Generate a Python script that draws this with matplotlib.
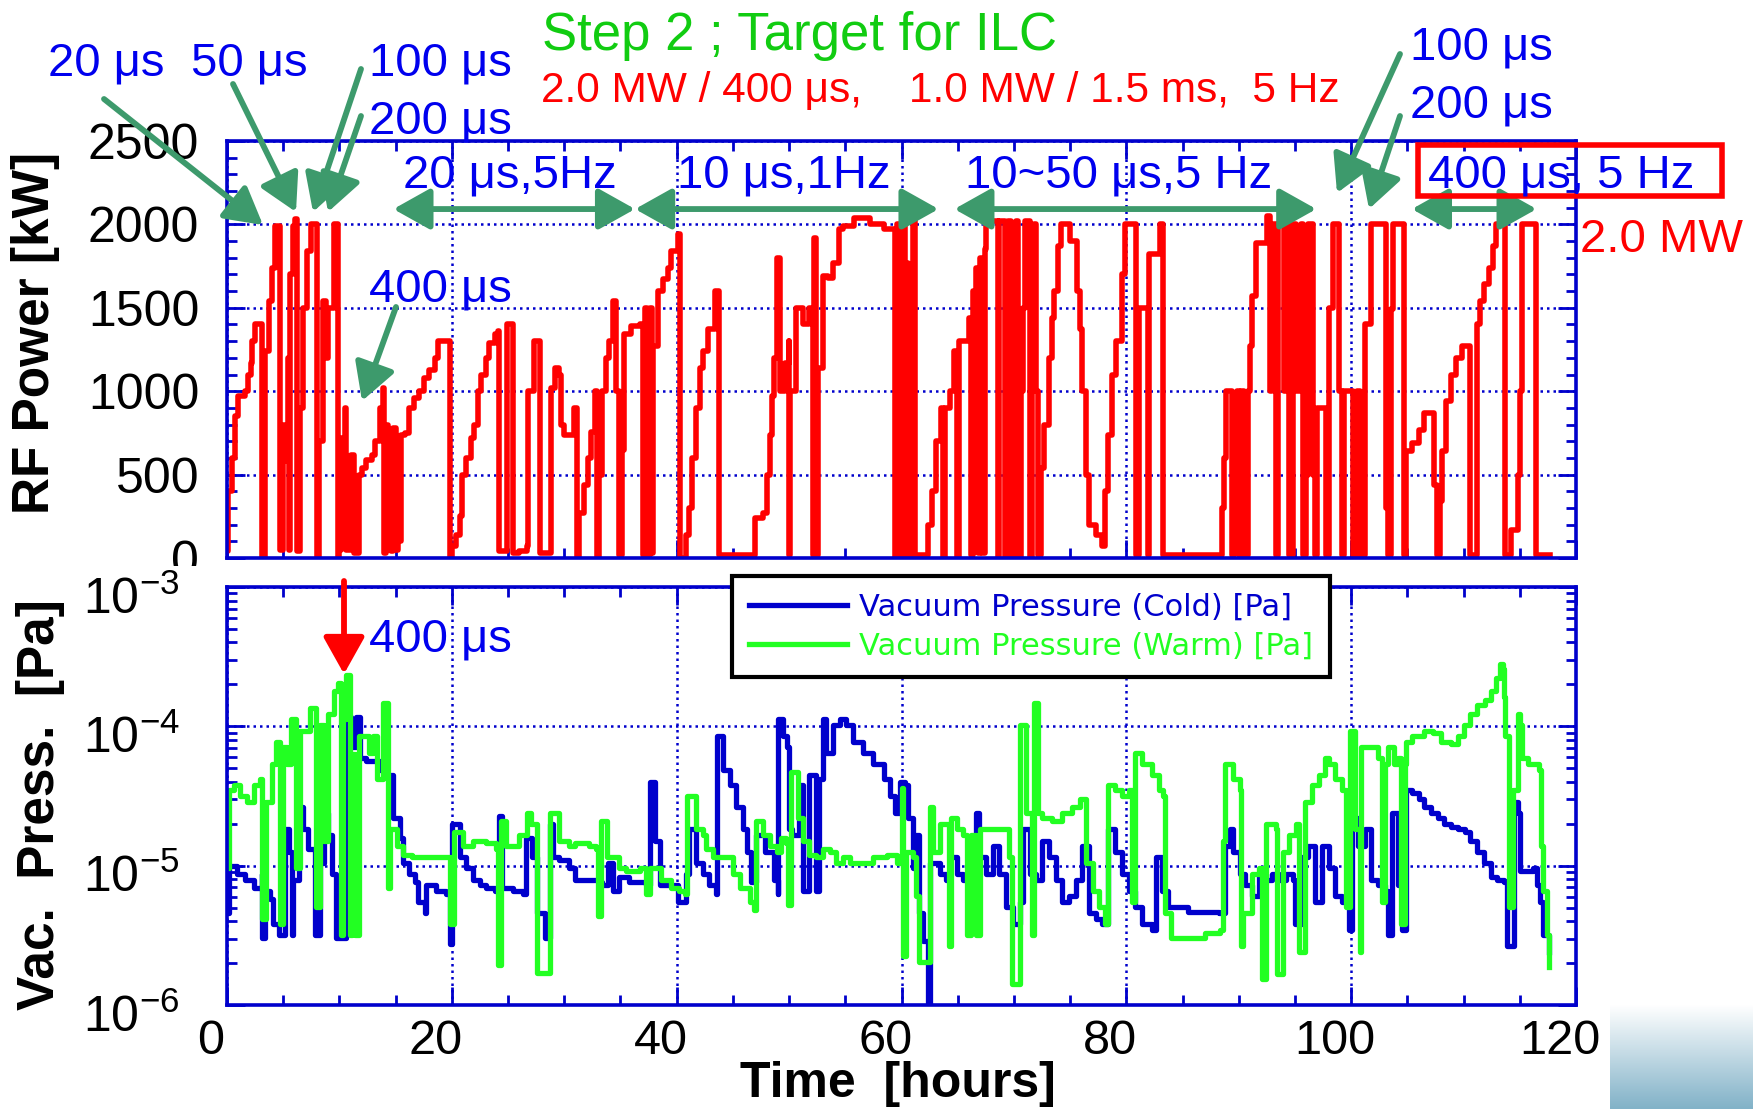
import numpy as np
import matplotlib
matplotlib.use('Agg')
import matplotlib.pyplot as plt
from matplotlib.ticker import MultipleLocator, LogLocator, NullFormatter
from matplotlib.patches import FancyArrowPatch, Rectangle
from matplotlib.transforms import ScaledTranslation, Bbox, TransformedBbox
from matplotlib.colors import LinearSegmentedColormap

plt.rcParams['font.family'] = ['Liberation Sans', 'DejaVu Sans']

W, H = 1753, 1109

time_ticks = [0, 20, 40, 60, 80, 100, 120]
power_ticks = [0, 500, 1000, 1500, 2000, 2500]
pressure_ticks = [1e-6, 1e-5, 1e-4, 1e-3]
pressure_labels = [r'$\mathregular{10^{-6}}$', r'$\mathregular{10^{-5}}$',
                   r'$\mathregular{10^{-4}}$', r'$\mathregular{10^{-3}}$']
legend_labels = ['Vacuum Pressure (Cold) [Pa]', 'Vacuum Pressure (Warm) [Pa]']

# RF power [kW] vs time [hours]
rf_power = [
  (0.0, 40), (0.1, 400), (0.45, 600), (0.75, 850), (1.0, 970), (1.6, 1000), (1.9, 1100),
  (2.1, 1170), (2.2, 1300), (2.5, 1400), (3.1, 1400), (3.1, 0), (3.2, 0), (3.4, 1240),
  (3.7, 1540), (4.0, 1740), (4.3, 1990), (4.7, 1990), (4.7, 50), (4.9, 50), (5.0, 800),
  (5.2, 580), (5.4, 1200), (5.5, 50), (5.6, 1700), (5.9, 1990), (6.05, 2030), (6.2, 600),
  (6.2, 40), (6.4, 40), (6.5, 900), (6.8, 1500), (7.1, 1840), (7.5, 2000), (8.0, 2000),
  (8.0, 0), (8.2, 700), (8.5, 1540), (8.8, 1200), (9.0, 1500), (9.5, 2000), (9.9, 2000),
  (9.9, 0), (10.0, 50), (10.1, 720), (10.3, 600), (10.5, 900), (10.6, 50), (10.9, 50),
  (11.0, 620), (11.2, 620), (11.3, 30), (11.5, 30), (11.7, 500), (12.0, 540), (12.4, 590),
  (12.9, 620), (13.2, 700), (13.6, 900), (13.9, 1020), (14.0, 30), (14.1, 800), (14.3, 50),
  (14.5, 700), (14.6, 40), (14.8, 780), (15.0, 50), (15.2, 720), (15.4, 100), (15.5, 740),
  (15.8, 750), (16.2, 900), (16.6, 960), (17.1, 1000), (17.5, 1080), (18.0, 1130),
  (18.5, 1200), (18.8, 1300), (19.8, 1300), (19.8, 0), (20.0, 70), (20.4, 140), (20.7, 250),
  (20.9, 500), (21.3, 600), (21.7, 720), (22.0, 800), (22.3, 1000), (22.6, 1100),
  (23.0, 1200), (23.3, 1290), (23.8, 1340), (24.1, 1360), (24.2, 40), (24.5, 40),
  (24.9, 1400), (25.2, 1400), (25.4, 30), (26.0, 40), (26.7, 70), (26.8, 1000),
  (27.3, 1300), (27.7, 1300), (27.8, 30), (28.8, 30), (28.8, 1020), (29.2, 1140),
  (29.5, 1100), (29.7, 800), (30.0, 740), (30.6, 740), (30.9, 900), (31.1, 0), (31.3, 270),
  (31.8, 440), (32.1, 600), (32.4, 755), (32.7, 1000), (32.9, 1000), (32.9, 0), (33.1, 500),
  (33.4, 1000), (33.7, 1200), (34.0, 1300), (34.3, 1540), (34.55, 1540), (34.6, 1000),
  (34.9, 20), (35.1, 650), (35.3, 1340), (35.9, 1390), (36.7, 1400), (37.0, 1400),
  (37.0, 20), (37.2, 1500), (37.4, 20), (37.6, 1500), (37.8, 30), (37.9, 1270),
  (38.3, 1600), (38.8, 1670), (39.2, 1740), (39.5, 1840), (40.1, 1940), (40.3, 1940),
  (40.3, 0), (40.8, 140), (41.1, 300), (41.4, 600), (41.7, 900), (42.1, 1140),
  (42.3, 1240), (42.8, 1370), (43.4, 1600), (43.8, 1600), (43.8, 20), (46.9, 20),
  (47.0, 240), (47.7, 270), (48.0, 500), (48.3, 740), (48.5, 970), (48.7, 1200),
  (48.9, 1800), (49.1, 1800), (49.2, 1000), (49.6, 1170), (50.0, 1300), (50.0, 20),
  (50.1, 1000), (50.6, 1500), (51.2, 1400), (51.8, 1500), (52.1, 20), (52.2, 1920),
  (52.4, 20), (52.6, 1140), (53.0, 1690), (53.5, 1680), (53.9, 1770), (54.4, 1970),
  (54.8, 1990), (55.8, 2040), (56.6, 2040), (57.2, 2000), (58.4, 1970), (59.3, 1970),
  (59.4, 0), (59.6, 2000), (59.8, 0), (60.1, 2040), (60.3, 1200), (60.4, 1770), (60.6, 0),
  (60.8, 1470), (61.0, 2040), (61.2, 20), (62.2, 20), (62.4, 200), (62.7, 400),
  (63.1, 700), (63.5, 900), (63.7, 0), (63.9, 900), (64.3, 1000), (64.7, 1240), (64.9, 0),
  (65.1, 1300), (65.6, 1300), (66.0, 1440), (66.2, 20), (66.4, 1600), (66.6, 1740),
  (66.8, 30), (67.0, 1800), (67.2, 30), (67.4, 1850), (67.5, 2020), (68.5, 2020),
  (68.6, 0), (68.7, 2020), (69.1, 2020), (69.2, 0), (69.4, 1000), (69.5, 2020), (69.7, 0),
  (69.9, 2000), (70.0, 1000), (70.2, 2020), (70.4, 0), (70.6, 1000), (70.8, 1500),
  (71.0, 2020), (71.3, 2020), (71.4, 0), (71.6, 1000), (71.8, 2000), (72.0, 1000),
  (72.1, 20), (72.4, 540), (72.7, 800), (73.1, 1200), (73.4, 1440), (73.6, 1600),
  (73.9, 1870), (74.2, 2000), (74.6, 2000), (75.0, 1900), (75.6, 1600), (75.9, 1370),
  (76.1, 1000), (76.4, 500), (76.7, 200), (77.3, 140), (77.8, 70), (78.1, 400),
  (78.4, 740), (78.7, 1100), (79.1, 1300), (79.6, 1700), (79.9, 2000), (80.9, 2000),
  (80.9, 20), (81.1, 1500), (81.8, 1500), (81.9, 20), (82.0, 1820), (82.6, 1820),
  (83.0, 2000), (83.2, 2000), (83.3, 20), (88.3, 20), (88.5, 300), (88.7, 600),
  (88.9, 1000), (89.3, 1000), (89.4, 20), (89.6, 640), (89.8, 1000), (90.0, 20),
  (90.2, 1000), (90.5, 640), (90.6, 20), (90.8, 1000), (91.0, 1270), (91.2, 1570),
  (91.5, 1890), (92.0, 1890), (92.5, 2050), (92.7, 2050), (92.8, 1000), (93.0, 2000),
  (93.3, 20), (93.5, 2000), (94.0, 1000), (94.3, 2000), (94.5, 20), (94.8, 2000),
  (95.1, 1000), (95.3, 1000), (95.5, 2000), (95.7, 20), (96.0, 500), (96.2, 2000),
  (96.6, 500), (96.8, 20), (97.0, 900), (97.5, 900), (97.8, 20), (98.0, 1500),
  (98.4, 2000), (98.8, 2000), (98.9, 1000), (99.2, 20), (99.4, 1000), (100.0, 1000),
  (100.2, 20), (100.5, 1000), (100.8, 20), (101.2, 1400), (101.7, 1400), (101.8, 2000),
  (103.0, 2000), (103.1, 300), (103.3, 20), (103.5, 1490), (103.7, 2000), (104.5, 2000),
  (104.7, 20), (104.9, 640), (105.4, 690), (106.0, 770), (106.5, 870), (107.2, 870),
  (107.4, 440), (107.6, 20), (107.9, 340), (108.1, 640), (108.4, 940), (108.9, 1100),
  (109.3, 1200), (109.9, 1270), (110.5, 1270), (110.6, 20), (111.1, 20), (111.2, 1400),
  (111.5, 1540), (111.8, 1640), (112.3, 1740), (112.6, 1870), (112.9, 2000),
  (113.6, 2000), (113.7, 20), (114.2, 170), (114.5, 170), (114.8, 500), (115.0, 1000),
  (115.2, 2000), (116.3, 2000), (116.4, 20), (117.7, 20),
]

# vacuum pressure, (hours, log10 of pressure in Pa)
cold_pressure = [
  (0.0, -5.34), (0.15, -5.0), (0.9, -5.06), (1.6, -5.10), (2.4, -5.16), (3.1, -5.06),
  (3.1, -5.52), (3.4, -5.18), (3.8, -5.24), (4.1, -5.42), (4.6, -5.50), (5.0, -5.50),
  (5.2, -4.74), (5.5, -4.90), (5.8, -5.50), (5.9, -5.10), (6.4, -4.58), (6.8, -4.74),
  (7.2, -4.88), (7.8, -5.50), (8.3, -4.98), (8.6, -4.35), (8.9, -4.62), (9.0, -4.78),
  (9.3, -5.06), (9.7, -5.52), (10.3, -5.52), (10.6, -3.93), (11.0, -4.15), (11.5, -3.93),
  (11.8, -4.23), (12.4, -4.25), (13.0, -4.25), (13.6, -4.31), (14.2, -4.35), (14.5, -4.35),
  (14.8, -4.66), (15.4, -4.80), (15.7, -4.98), (16.2, -5.06), (16.7, -5.12), (17.0, -5.26),
  (17.6, -5.34), (17.7, -5.14), (18.6, -5.18), (19.5, -5.20), (19.8, -5.56), (20.0, -4.70),
  (20.7, -4.94), (21.3, -5.02), (21.9, -5.10), (22.5, -5.14), (23.0, -5.16), (23.8, -5.18),
  (24.2, -4.64), (24.5, -5.16), (25.4, -5.18), (26.3, -5.20), (26.6, -4.80), (27.1, -4.94),
  (27.6, -5.34), (28.3, -5.52), (28.7, -4.70), (29.0, -4.94), (29.5, -4.96), (30.4, -5.02),
  (31.0, -5.10), (32.2, -5.10), (33.0, -5.12), (33.4, -5.14), (33.9, -4.98), (34.3, -5.18),
  (34.9, -5.08), (35.8, -5.12), (37.0, -5.12), (37.3, -5.14), (37.6, -4.40), (38.0, -4.40),
  (38.1, -4.82), (38.5, -5.14), (39.6, -5.14), (40.1, -5.26), (40.7, -5.26), (40.8, -5.06),
  (41.1, -4.74), (41.7, -4.98), (42.3, -5.06), (42.9, -5.14), (43.5, -5.20), (43.6, -4.07),
  (44.1, -4.31), (44.7, -4.42), (45.3, -4.58), (45.9, -4.74), (46.3, -4.90), (46.6, -5.12),
  (47.1, -4.78), (47.9, -4.90), (48.7, -5.10), (49.0, -5.20), (49.0, -3.95), (49.5, -4.07),
  (49.8, -4.15), (50.0, -4.74), (50.3, -4.78), (50.9, -4.42), (51.2, -5.18), (51.8, -4.35),
  (52.4, -5.18), (52.7, -4.38), (53.0, -3.95), (53.3, -4.19), (53.9, -3.99), (54.5, -3.95),
  (55.1, -3.99), (55.7, -4.11), (56.6, -4.19), (57.5, -4.27), (58.4, -4.38), (59.0, -4.50),
  (59.4, -4.62), (59.9, -4.40), (60.3, -4.42), (60.6, -4.66), (61.0, -5.02), (61.3, -4.78),
  (61.6, -5.34), (61.9, -5.54), (62.4, -6.0), (62.5, -4.98), (63.1, -4.98), (63.4, -5.06),
  (64.0, -5.10), (64.3, -4.94), (64.9, -5.06), (65.5, -5.10), (66.6, -4.62), (66.9, -4.94),
  (67.5, -5.06), (68.1, -4.86), (68.7, -5.06), (69.3, -5.30), (69.9, -5.42), (70.5, -5.26),
  (70.8, -4.74), (71.4, -5.06), (72.0, -5.10), (72.5, -4.82), (73.1, -4.94), (73.7, -5.10),
  (74.3, -5.26), (74.9, -5.22), (75.5, -5.10), (76.1, -4.86), (76.7, -5.34), (77.3, -5.38),
  (77.8, -5.42), (78.4, -4.74), (79.0, -4.90), (79.6, -5.06), (80.2, -5.18), (80.8, -5.30),
  (81.4, -5.42), (82.3, -5.46), (82.6, -4.94), (83.2, -5.18), (83.7, -5.30), (85.5, -5.33),
  (88.2, -5.34), (88.8, -4.86), (89.2, -4.74), (89.5, -4.90), (90.1, -5.06), (90.6, -5.14),
  (91.2, -5.22), (91.8, -5.06), (92.4, -5.10), (93.0, -5.06), (93.6, -5.10), (94.2, -5.06),
  (94.8, -5.10), (95.0, -5.42), (95.6, -4.94), (96.2, -4.86), (96.8, -5.26), (97.4, -4.86),
  (98.0, -5.02), (98.6, -5.22), (99.2, -5.26), (99.8, -5.46), (100.1, -4.66), (100.6, -4.86),
  (101.2, -4.74), (101.8, -5.10), (102.4, -5.14), (103.0, -5.18), (103.3, -5.50),
  (103.6, -4.62), (104.2, -5.14), (104.5, -5.46), (104.9, -4.46), (105.4, -4.48),
  (106.0, -4.52), (106.5, -4.58), (107.1, -4.62), (107.7, -4.66), (108.3, -4.70),
  (108.9, -4.72), (109.5, -4.74), (110.1, -4.76), (110.6, -4.82), (111.2, -4.90),
  (111.8, -4.98), (112.4, -5.08), (113.0, -5.10), (113.6, -5.12), (113.9, -5.58),
  (114.5, -4.54), (114.8, -4.62), (115.0, -5.04), (116.2, -5.02), (116.5, -5.14),
  (116.8, -5.26), (117.1, -5.50), (117.6, -5.62),
]

warm_pressure = [
  (0.0, -5.02), (0.15, -4.46), (0.6, -4.42), (1.2, -4.50), (1.8, -4.54), (2.4, -4.42),
  (2.95, -4.38), (3.1, -5.38), (3.5, -4.54), (4.0, -4.27), (4.4, -4.11), (4.7, -5.42),
  (5.0, -4.15), (5.3, -4.27), (5.7, -3.95), (6.0, -3.95), (6.1, -5.02), (6.5, -4.03),
  (7.1, -4.03), (7.4, -3.87), (7.8, -3.87), (7.9, -5.30), (8.3, -3.99), (8.6, -4.82),
  (9.0, -3.91), (9.5, -3.75), (9.9, -3.69), (10.1, -5.50), (10.3, -3.95), (10.6, -3.63),
  (10.9, -5.50), (11.1, -4.20), (11.4, -5.50), (11.7, -4.07), (12.6, -4.19), (13.0, -4.07),
  (13.3, -4.38), (13.9, -3.83), (14.2, -3.83), (14.3, -5.16), (14.5, -4.74), (15.1, -4.86),
  (15.7, -4.92), (16.5, -4.94), (19.5, -4.94), (19.8, -5.42), (20.2, -4.76), (21.0, -4.86),
  (21.9, -4.82), (23.0, -4.84), (23.9, -4.88), (24.1, -5.71), (24.4, -4.68), (24.8, -4.86),
  (25.4, -4.86), (26.0, -4.78), (26.7, -4.62), (27.0, -4.70), (27.6, -5.77), (28.5, -5.77),
  (28.7, -4.62), (29.5, -4.82), (30.4, -4.86), (31.0, -4.84), (32.2, -4.86), (32.8, -4.88),
  (33.0, -5.36), (33.3, -4.68), (33.8, -4.94), (34.4, -4.94), (34.9, -5.02), (35.5, -5.04),
  (36.7, -5.02), (37.3, -5.20), (37.6, -5.02), (38.0, -5.02), (38.6, -5.10), (39.5, -5.16),
  (40.2, -5.18), (40.7, -5.20), (40.9, -4.50), (41.3, -4.50), (41.7, -4.74), (42.3, -4.78),
  (42.6, -4.88), (43.2, -4.94), (44.1, -4.94), (45.0, -5.06), (45.6, -5.16), (46.5, -5.26),
  (46.9, -5.32), (47.1, -4.68), (47.7, -4.78), (48.3, -4.86), (48.9, -4.90), (49.3, -4.80),
  (49.7, -4.84), (49.9, -5.28), (50.2, -4.33), (50.6, -4.33), (50.8, -4.66), (51.2, -4.82),
  (51.8, -4.92), (52.4, -4.94), (53.0, -4.88), (53.6, -4.90), (54.2, -4.98), (54.8, -4.94),
  (55.4, -4.98), (56.6, -4.98), (57.5, -4.94), (58.7, -4.92), (59.6, -4.98), (60.0, -4.44),
  (60.1, -5.65), (60.4, -4.90), (61.0, -4.94), (61.3, -5.22), (61.6, -5.69), (62.4, -5.69),
  (62.5, -4.58), (62.8, -4.90), (63.4, -4.70), (64.0, -4.70), (64.2, -5.58), (64.4, -4.66),
  (64.9, -4.74), (65.5, -4.78), (65.8, -5.50), (66.2, -4.78), (66.6, -5.50), (67.0, -4.74),
  (67.5, -4.74), (69.3, -4.74), (69.6, -4.94), (69.8, -5.85), (70.3, -5.85), (70.5, -3.99),
  (70.8, -3.99), (71.1, -4.62), (71.6, -5.50), (71.8, -3.83), (72.1, -4.62), (72.5, -4.66),
  (73.4, -4.68), (74.3, -4.62), (75.2, -4.58), (75.9, -4.52), (76.4, -4.98), (77.0, -5.18),
  (77.6, -5.30), (78.1, -5.42), (78.4, -4.42), (79.0, -4.46), (79.6, -4.50), (80.2, -4.46),
  (80.5, -5.26), (80.8, -4.19), (81.4, -4.27), (82.3, -4.35), (82.9, -4.46), (83.3, -4.50),
  (83.4, -5.34), (84.0, -5.52), (85.5, -5.52), (87.0, -5.48), (88.3, -5.46), (88.6, -4.82),
  (88.8, -4.27), (89.5, -4.38), (90.1, -4.46), (90.2, -5.58), (90.4, -5.34), (91.2, -5.06),
  (91.8, -5.02), (92.1, -5.81), (92.4, -4.70), (93.3, -4.74), (93.4, -5.78), (93.9, -4.90),
  (94.5, -4.78), (95.1, -4.70), (95.4, -5.62), (95.9, -4.54), (96.5, -4.42), (97.1, -4.35),
  (97.7, -4.23), (98.0, -4.27), (98.6, -4.38), (99.2, -4.46), (99.5, -5.30), (99.9, -4.03),
  (100.3, -4.74), (100.8, -5.62), (100.9, -4.15), (102.4, -4.23), (102.7, -5.26),
  (103.0, -4.27), (103.3, -4.15), (103.8, -4.27), (104.2, -4.23), (104.4, -5.42),
  (104.8, -4.27), (104.9, -4.11), (105.4, -4.07), (106.5, -4.03), (107.3, -4.05),
  (108.0, -4.11), (108.9, -4.13), (109.5, -4.07), (110.0, -3.99), (110.6, -3.91),
  (111.2, -3.85), (111.9, -3.81), (112.4, -3.75), (112.9, -3.65), (113.2, -3.55),
  (113.5, -3.59), (113.6, -3.79), (113.7, -4.07), (114.0, -5.30), (114.4, -4.46),
  (114.8, -3.91), (115.0, -3.99), (115.2, -4.23), (115.7, -4.27), (116.2, -4.27),
  (116.7, -4.31), (116.9, -4.86), (117.1, -5.18), (117.4, -5.50), (117.6, -5.73),
]

# pulse-condition spans shown by the double arrows (hours)
spans = [(14.8, 36.3), (36.3, 63.3), (64.7, 96.9), (105.4, 116.5)]

AX_BLUE = '#0000cc'
TXT_BLUE = '#0000ee'
ARROW_GREEN = '#3d9a6c'


def fig_xy(x, y):
  """ pixel position (from top-left) -> figure fraction """
  return x / W, 1 - y / H


def style_axes(ax):
  for s in ax.spines.values():
    s.set_color(AX_BLUE)
    s.set_linewidth(2.6)
  ax.tick_params(which='both', direction='in', top=True, right=True,
                 color=AX_BLUE, width=2.0)
  ax.tick_params(which='major', length=13)
  ax.tick_params(which='minor', length=7)
  ax.grid(True, which='major', color=AX_BLUE, linestyle=(0, (1, 1.6)), linewidth=1.8)
  ax.set_axisbelow(True)


def add_arrow(p0, p1, color=ARROW_GREEN, style='-|>'):
  arrow = FancyArrowPatch(fig_xy(*p0), fig_xy(*p1), transform=fig.transFigure,
                          arrowstyle=style + ',head_length=0.75,head_width=0.42',
                          mutation_scale=30, lw=4.2, color=color,
                          shrinkA=0, shrinkB=0)
  fig.add_artist(arrow)


fig = plt.figure(figsize=(W / 100, H / 100), dpi=100)

# --- RF power ---
ax1 = fig.add_axes([227 / W, 1 - 558 / H, 1349 / W, 417 / H])
t, p = zip(*rf_power)
ax1.plot(t, p, color='#ff0000', lw=4.0, drawstyle='steps-post')
ax1.set_xlim(0, 120)
ax1.set_ylim(0, 2500)
ax1.set_xticks(time_ticks)
ax1.set_yticks(power_ticks)
ax1.xaxis.set_minor_locator(MultipleLocator(5))
ax1.yaxis.set_minor_locator(MultipleLocator(100))
style_axes(ax1)
ax1.tick_params(labelbottom=False)
ax1.tick_params(axis='y', labelsize=36, pad=20)
# the "0" label is half hidden behind the lower panel in the original
zero_lab = ax1.get_yticklabels()[0]
zero_lab.set_clip_box(TransformedBbox(Bbox([[0, 1 - 566 / H], [1, 1]]), fig.transFigure))
zero_lab.set_clip_on(True)

# --- vacuum pressure ---
ax2 = fig.add_axes([227 / W, 1 - 1005 / H, 1349 / W, 418 / H])
tc, lc = zip(*cold_pressure)
tw, lw_ = zip(*warm_pressure)
ax2.plot(tc, 10 ** np.array(lc), color='#0000cc', lw=3.8, drawstyle='steps-post',
         label=legend_labels[0])
ax2.plot(tw, 10 ** np.array(lw_), color='#22ff22', lw=3.8, drawstyle='steps-post',
         label=legend_labels[1])
ax2.set_yscale('log')
ax2.set_xlim(0, 120)
ax2.set_ylim(1e-6, 1e-3)
ax2.set_xticks(time_ticks)
ax2.xaxis.set_minor_locator(MultipleLocator(5))
ax2.set_yticks(pressure_ticks)
ax2.set_yticklabels(pressure_labels)
ax2.yaxis.set_minor_locator(LogLocator(base=10, subs=np.arange(2, 10)))
ax2.yaxis.set_minor_formatter(NullFormatter())
style_axes(ax2)
ax2.tick_params(axis='y', labelsize=36, pad=34)
ax2.tick_params(axis='x', labelsize=35, pad=10)
shift = ScaledTranslation(-0.16, 0, fig.dpi_scale_trans)
for lab in ax2.get_xticklabels():
  lab.set_transform(lab.get_transform() + shift)
shift_y = ScaledTranslation(0, -0.08, fig.dpi_scale_trans)
for lab in ax2.get_yticklabels():
  lab.set_transform(lab.get_transform() + shift_y)

leg = ax2.legend(loc='upper left', bbox_to_anchor=fig_xy(732, 576),
                 bbox_transform=fig.transFigure, prop={'family': 'DejaVu Sans', 'size': 22},
                 labelcolor='linecolor', fancybox=False, framealpha=1, edgecolor='black',
                 borderpad=0.55, borderaxespad=0, handlelength=3.2, handletextpad=0.4,
                 labelspacing=0.32)
leg.get_frame().set_linewidth(3)

# axis titles
fig.text(*fig_xy(36, 333), 'RF Power [kW]', rotation=90, ha='center', va='center',
         fontsize=37, fontweight='bold')
fig.text(*fig_xy(41, 805), 'Vac.  Press.  [Pa]', rotation=90, ha='center', va='center',
         fontsize=37, fontweight='bold')
fig.text(*fig_xy(898, 1084), 'Time  [hours]', ha='center', va='center',
         fontsize=36, fontweight='bold')

# headline
fig.text(*fig_xy(542, 50), 'Step 2 ; Target for ILC', color='#11cc11', fontsize=38,
         ha='left', va='baseline')
fig.text(*fig_xy(541, 102), '2.0 MW / 400 \u03bcs,    1.0 MW / 1.5 ms,  5 Hz',
         color='#ff0000', fontsize=30.5, ha='left', va='baseline')

# pulse-width labels
blue_labels = [
  ('20 \u03bcs', 106, 75), ('50 \u03bcs', 249, 75), ('100 \u03bcs', 440, 75),
  ('200 \u03bcs', 440, 133), ('100 \u03bcs', 1481, 59), ('200 \u03bcs', 1481, 118),
  ('20 \u03bcs,5Hz', 510, 187), ('10 \u03bcs,1Hz', 784, 187),
  ('10~50 \u03bcs,5 Hz', 1119, 187), ('400 \u03bcs, 5 Hz', 1561, 187),
  ('400 \u03bcs', 440, 302), ('400 \u03bcs', 440, 652),
]
for txt, x, y in blue_labels:
  fig.text(*fig_xy(x, y), txt, color=TXT_BLUE, fontsize=34, ha='center', va='baseline')
fig.text(*fig_xy(1662, 252), '2.0 MW', color='#ff0000', fontsize=34,
         ha='center', va='baseline')
fig.add_artist(Rectangle(fig_xy(1418, 196), 304 / W, 51 / H, transform=fig.transFigure,
                         fill=False, edgecolor='#ff0000', lw=4))

# arrows
add_arrow((104, 99), (263, 225))
add_arrow((233, 84), (296, 212))
add_arrow((361, 69), (313, 212))
add_arrow((361, 116), (328, 212))
add_arrow((396, 307), (362, 401))
add_arrow((1400, 54), (1337, 193))
add_arrow((1400, 116), (1369, 209))
add_arrow((344, 581), (344, 674), color='#ff0000')
for x0, x1 in spans:
  ax1.annotate('', xy=(x1, 2092), xytext=(x0, 2092), annotation_clip=False,
               arrowprops=dict(arrowstyle='<|-|>,head_length=0.75,head_width=0.42',
                               mutation_scale=30, lw=4.2, color=ARROW_GREEN,
                               shrinkA=0, shrinkB=0))

# slide background corner
ax_bg = fig.add_axes([1610 / W, 0, (W - 1610) / W, 105 / H])
ax_bg.imshow(np.linspace(0, 1, 64).reshape(-1, 1), aspect='auto',
             cmap=LinearSegmentedColormap.from_list('bg', ['#ffffff', '#82b2c8']))
ax_bg.axis('off')

fig.savefig('out.png', dpi=100)
